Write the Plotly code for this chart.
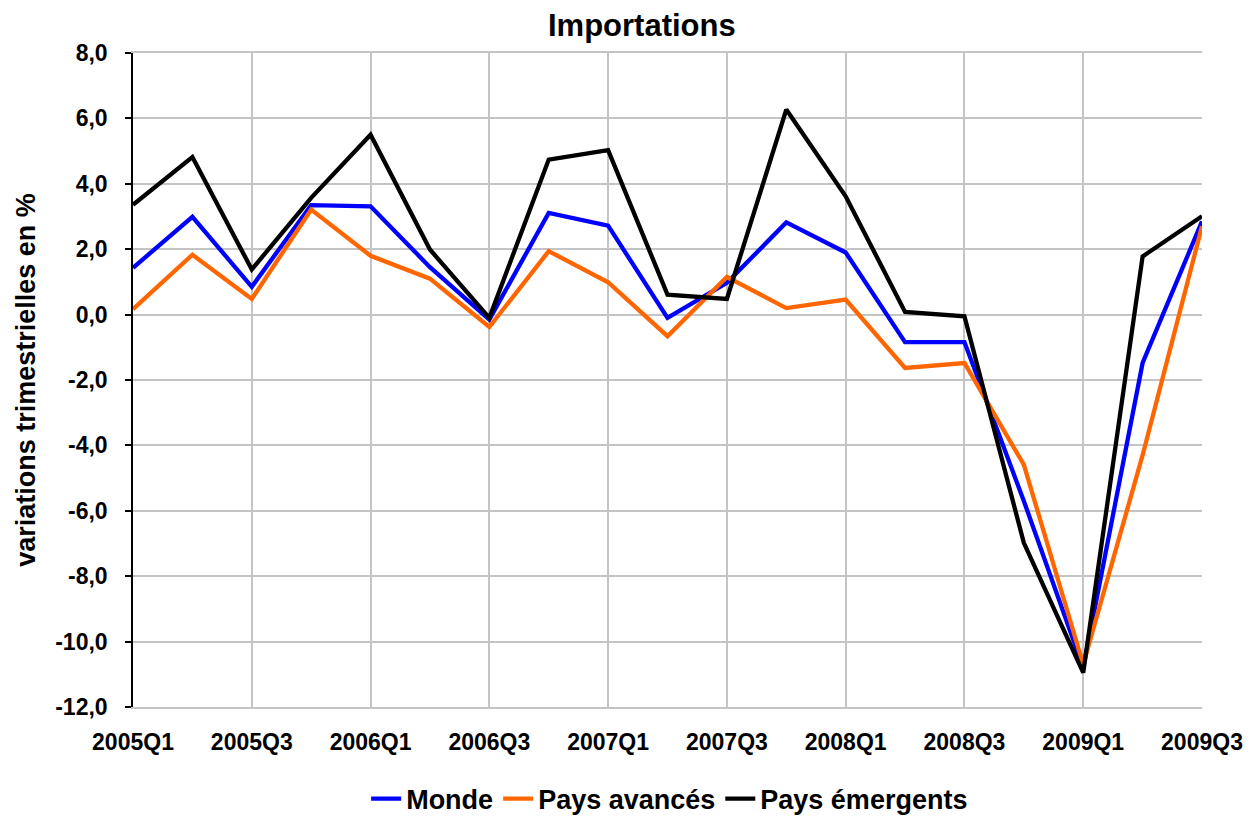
import plotly.graph_objects as go

quarters = ["2005Q1", "2005Q2", "2005Q3", "2005Q4", "2006Q1", "2006Q2", "2006Q3", "2006Q4",
            "2007Q1", "2007Q2", "2007Q3", "2007Q4", "2008Q1", "2008Q2", "2008Q3", "2008Q4",
            "2009Q1", "2009Q2", "2009Q3"]
monde = [1.43, 2.99, 0.85, 3.35, 3.31, 1.45, -0.15, 3.11, 2.72, -0.10, 0.97, 2.82, 1.90,
         -0.84, -0.84, -5.70, -10.80, -1.48, 2.85]
avances = [0.17, 1.83, 0.48, 3.21, 1.80, 1.10, -0.38, 1.94, 0.99, -0.66, 1.15, 0.20, 0.46,
           -1.63, -1.48, -4.59, -10.70, -4.30, 2.70]
emergents = [3.36, 4.82, 1.38, 3.57, 5.50, 1.99, -0.10, 4.74, 5.03, 0.61, 0.48, 6.27, 3.62,
             0.08, -0.05, -6.98, -10.95, 1.78, 3.01]
x_tick_labels = quarters[::2]
y_tick_values = [8, 6, 4, 2, 0, -2, -4, -6, -8, -10, -12]
y_tick_labels = ["8,0", "6,0", "4,0", "2,0", "0,0", "-2,0", "-4,0", "-6,0", "-8,0", "-10,0", "-12,0"]

FONT = "Liberation Sans, Arial, sans-serif"

fig = go.Figure()
for name, vals, col in [("Monde", monde, "#0000FF"),
                        ("Pays avancés", avances, "#FF6600"),
                        ("Pays émergents", emergents, "#000000")]:
    fig.add_trace(go.Scatter(x=quarters, y=vals, mode="lines", name=name,
                             line=dict(color=col, width=4.3)))

fig.update_layout(
    width=1248, height=810,
    paper_bgcolor="white", plot_bgcolor="white",
    margin=dict(l=125, r=54, t=45, b=111, autoexpand=False),
    showlegend=True,
    title=dict(text="Importations", x=0.476, xref="paper", y=1 - 17 / 810, yref="container",
               xanchor="center", yanchor="middle",
               font=dict(family=FONT, size=31, color="black", weight="bold")),
    legend=dict(orientation="h", x=0.502, xanchor="center", y=-0.1407, yanchor="middle",
                font=dict(family=FONT, size=27, color="black", weight="bold"),
                tracegroupgap=0, bgcolor="rgba(0,0,0,0)", borderwidth=0),
    xaxis=dict(type="category", categoryorder="array", categoryarray=quarters,
               range=[0, len(quarters) - 1], automargin=False,
               tickmode="array", tickvals=x_tick_labels, ticktext=x_tick_labels,
               showgrid=True, gridcolor="#C4C4C4", gridwidth=1.5,
               showline=True, linecolor="#C4C4C4", linewidth=1.5, mirror=True,
               ticks="", zeroline=False, ticklabelstandoff=14,
               tickfont=dict(family=FONT, size=23, color="black", weight="bold")),
    xaxis2=dict(type="category", matches="x", overlaying="x", anchor="free", position=0.6,
                side="bottom", tickmode="array", tickvals=x_tick_labels,
                showticklabels=False, showgrid=False, showline=True,
                linecolor="black", linewidth=1.5, ticks="outside", ticklen=6,
                tickcolor="black", tickwidth=1.5),
    yaxis=dict(range=[-12, 8], automargin=False,
               tickmode="array", tickvals=y_tick_values, ticktext=y_tick_labels,
               showgrid=True, gridcolor="#C4C4C4", gridwidth=1.5,
               showline=True, linecolor="black", linewidth=1.5,
               ticks="outside", ticklen=6, tickcolor="black", tickwidth=1.5,
               zeroline=False, ticklabelstandoff=13,
               tickfont=dict(family=FONT, size=23, color="black", weight="bold"),
               title=dict(text="variations trimestrielles en %", standoff=12,
                          font=dict(family=FONT, size=27, color="black", weight="bold"))),
)

fig.write_html("out.html")
